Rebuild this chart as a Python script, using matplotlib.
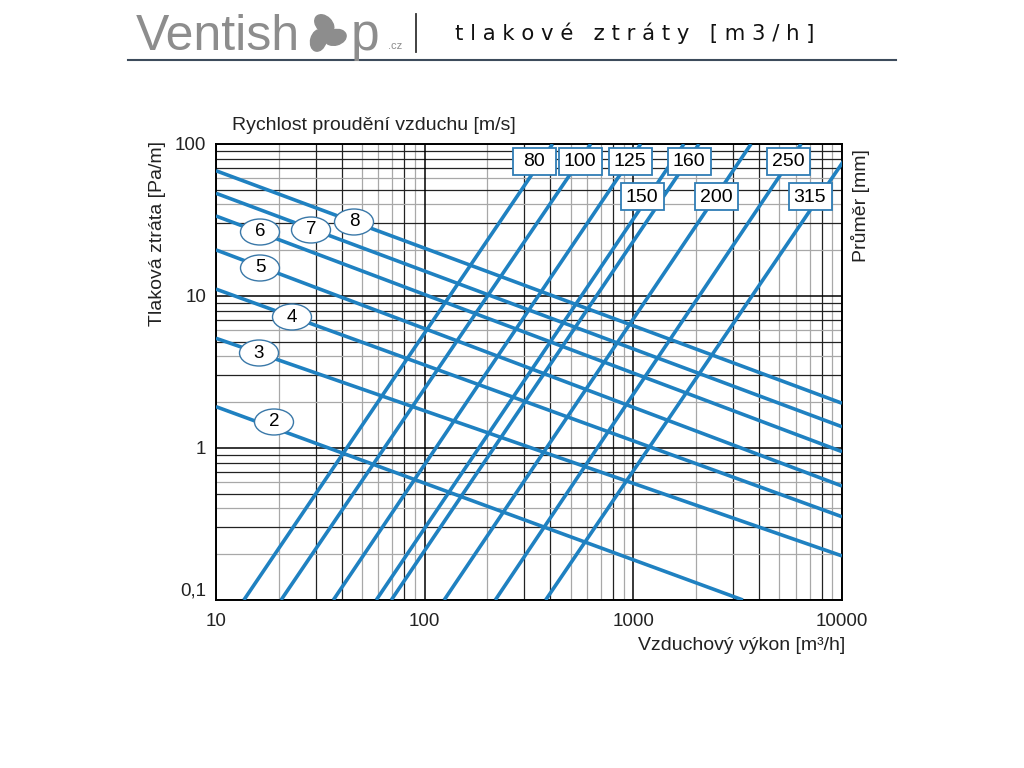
import matplotlib
matplotlib.use('Agg')
import matplotlib.pyplot as plt
from matplotlib.patches import Ellipse, Rectangle
from matplotlib.lines import Line2D
import numpy as np

matplotlib.rcParams['font.family'] = ['Liberation Sans', 'DejaVu Sans']

# průměry potrubí: průtok při 0,1 Pa/m a při 100 Pa/m
diameters = ['80', '100', '125', '150', '160', '200', '250', '315']
q_at_low = [13.6, 20.5, 36.5, 58.6, 69.2, 124, 218, 380]
q_at_high = [410, 625, 1085, 1747, 2063, 3664, 6368, 11560]

# rychlosti proudění: začátek při 10 m3/h, konec (okraj grafu)
velocities = ['2', '3', '4', '5', '6', '7', '8']
dp_start = [1.87, 5.27, 11.1, 20.1, 33.6, 47.4, 66.7]
q_end = [3350, 10000, 10000, 10000, 10000, 10000, 10000]
dp_end = [0.1, 0.195, 0.353, 0.562, 0.946, 1.38, 1.97]

x_ticks = [10, 100, 1000, 10000]
x_labels = ['10', '100', '1000', '10000']
y_ticks = [0.1, 1, 10, 100]
y_labels = ['0,1', '1', '10', '100']

W, H = 1024, 768
blue = '#1f81c1'


def fx(x):
    return x / W


def fy(y):
    return 1 - y / H


fig = plt.figure(figsize=(10.24, 7.68), dpi=100)
ax = fig.add_axes([fx(216), fy(600), (842 - 216) / W, (600 - 144) / H])
ax.set_xscale('log')
ax.set_yscale('log')
ax.set_xlim(10, 10000)
ax.set_ylim(0.1, 100)

# mřížka
for dec in [10, 100, 1000]:
    for m in range(2, 10):
        c = '#222222' if m in (3, 4, 8) else '#a8a8a8'
        ax.axvline(dec * m, color=c, lw=0.9, zorder=1)
for dec in [0.1, 1, 10]:
    for m in range(2, 10):
        c = '#222222' if m in (3, 5, 7, 8, 9) else '#a8a8a8'
        ax.axhline(dec * m, color=c, lw=0.9, zorder=1)
for v in x_ticks:
    ax.axvline(v, color='black', lw=1.1, zorder=1)
for v in y_ticks:
    ax.axhline(v, color='black', lw=1.1, zorder=1)

for i in range(len(diameters)):
    ax.plot([q_at_low[i], q_at_high[i]], [0.1, 100], color=blue, lw=2.6,
            solid_capstyle='butt', zorder=3)
for i in range(len(velocities)):
    ax.plot([10, q_end[i]], [dp_start[i], dp_end[i]], color=blue, lw=2.6,
            solid_capstyle='butt', zorder=3)

ax.set_xticks(x_ticks)
ax.set_xticklabels(x_labels)
ax.set_yticks(y_ticks)
ax.set_yticklabels(y_labels)
ax.minorticks_off()
ax.tick_params(length=0, labelsize=13.5, labelcolor='#222222')
ax.tick_params(axis='x', pad=9)
ax.tick_params(axis='y', pad=7)
ax.get_yticklabels()[0].set_va('bottom')
for s in ax.spines.values():
    s.set_linewidth(1.4)
    s.set_color('black')

# popisky os
fig.text(fx(232), fy(125), 'Rychlost proudění vzduchu [m/s]', fontsize=14,
         ha='left', va='center', color='#222222')
fig.text(fx(157), fy(234), 'Tlaková ztráta [Pa/m]', fontsize=14, rotation=90,
         ha='center', va='center', color='#222222')
fig.text(fx(860), fy(206), 'Průměr [mm]', fontsize=14, rotation=90,
         ha='center', va='center', color='#222222')
fig.text(fx(845), fy(646), 'Vzduchový výkon [m³/h]', fontsize=14,
         ha='right', va='center', color='#222222')

# ovály s rychlostmi
oval_pos = [(274, 422), (259, 353), (292, 317), (260, 268), (260, 232), (311, 230), (354, 222)]
for lab, (px, py) in zip(velocities, oval_pos):
    fig.patches.append(Ellipse((fx(px), fy(py)), 39 / W, 26 / H, transform=fig.transFigure,
                               fc='white', ec='#3a78a8', lw=1.0, zorder=5))
    fig.text(fx(px), fy(py), lab, fontsize=13.5, ha='center', va='center', zorder=6)

# rámečky s průměry
box_pos = [(534, 162), (580, 162), (630, 162), (642, 197), (689, 162), (716, 197), (788, 162), (810, 197)]
for lab, (px, py) in zip(diameters, box_pos):
    fig.patches.append(Rectangle((fx(px - 21), fy(py + 13)), 43 / W, 27 / H,
                                 transform=fig.transFigure, fc='white', ec='#2f7db5',
                                 lw=1.3, zorder=5))
    fig.text(fx(px), fy(py), lab, fontsize=14, ha='center', va='center', zorder=6)

# hlavička
grey = '#8d8d8d'
fig.text(fx(136), fy(50), 'Ventish', fontsize=36, color=grey, ha='left', va='baseline')
fig.text(fx(351), fy(50), 'p', fontsize=37, color=grey, ha='left', va='baseline')
fig.text(fx(388), fy(49), '.cz', fontsize=8, color=grey, ha='left', va='baseline')
ic = fig.add_axes([fx(304), fy(56), 44 / W, 44 / H])
ic.set_xlim(-1, 1)
ic.set_ylim(-1, 1)
ic.set_aspect('equal')
ic.axis('off')
for ang in [100, 220, 340]:
    a = np.deg2rad(ang)
    ic.add_patch(Ellipse((0.45 * np.cos(a), 0.45 * np.sin(a)), 1.0, 0.7, angle=ang + 35,
                         color=grey))
fig.add_artist(Line2D([fx(416), fx(416)], [fy(14), fy(52)], color='#333333', lw=1.3))
fig.text(fx(455), fy(33), 't l a k o v é   z t r á t y   [ m 3 / h ]', fontsize=15.3,
         family='DejaVu Sans', ha='left', va='center', color='#111111')
fig.add_artist(Line2D([fx(128), fx(896)], [fy(60), fy(60)], color='#3d4b5c', lw=1.5))

fig.savefig('out.png', dpi=100)
